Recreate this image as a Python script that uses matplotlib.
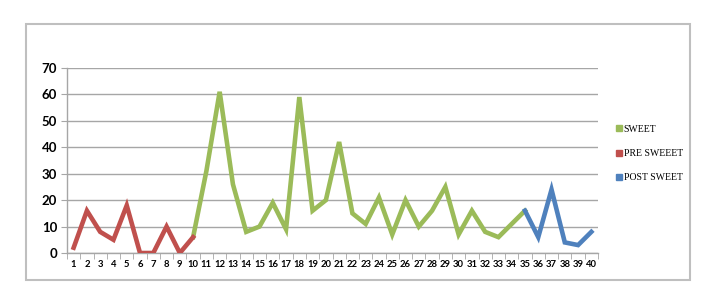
import matplotlib
matplotlib.use("Agg")
import matplotlib.pyplot as plt
from matplotlib.patches import Rectangle
from matplotlib.lines import Line2D

pre_x = list(range(1, 11))
pre_y = [2, 16, 8, 5, 18, 0, 0, 10, 0, 6]
sweet_x = list(range(10, 36))
sweet_y = [6, 31, 61, 26, 8, 10, 19, 9, 59, 16, 20, 42, 15, 11, 21, 7, 20, 10, 16, 25, 7, 16, 8, 6, 11, 16]
post_x = list(range(35, 41))
post_y = [16, 6, 24, 4, 3, 8]
categories = list(range(1, 41))
labels = ["SWEET", "PRE SWEEET", "POST SWEET"]
colors = ["#9BBB59", "#C0504D", "#4F81BD"]

fig = plt.figure(figsize=(7.08, 2.98), dpi=100)
fig.patches.append(Rectangle((26/708, 1-280/298), 664/708, 256/298, transform=fig.transFigure,
                             fill=False, edgecolor="#BFBFBF", lw=1.5))
ax = fig.add_axes([67/708, 1-253/298, (598-67)/708, (253-68)/298])

ax.plot(sweet_x, sweet_y, color=colors[0], lw=3.3, solid_joinstyle="miter", zorder=3)
ax.plot(pre_x, pre_y, color=colors[1], lw=3.3, solid_joinstyle="miter", zorder=3)
ax.plot(post_x, post_y, color=colors[2], lw=3.3, solid_joinstyle="miter", zorder=3)

ax.set_xlim(0.5, 40.5)
ax.set_ylim(0, 70)
ax.set_yticks(range(0, 71, 10))
ax.yaxis.grid(True, color="#A6A6A6", lw=1)
ax.set_axisbelow(True)
ax.set_xticks(categories)
ax.set_xticklabels([str(c) for c in categories], fontsize=6.8, fontweight="bold", family="Lato")
ax.set_xticks([c + 0.5 for c in [0] + categories], minor=True)
ax.tick_params(axis="x", which="major", length=0, pad=5)
ax.tick_params(axis="x", which="minor", length=4, color="#A6A6A6", direction="out")
ax.tick_params(axis="y", length=4, color="#A6A6A6", pad=3)
for lab in ax.get_yticklabels():
    lab.set_fontsize(9.5)
    lab.set_fontweight("bold")
    lab.set_family("Lato")
for s in ["top", "right"]:
    ax.spines[s].set_visible(False)
for s in ["left", "bottom"]:
    ax.spines[s].set_color("#A6A6A6")
    ax.spines[s].set_linewidth(1)

handles = [Line2D([], [], marker="s", ls="none", color=c, markersize=4) for c in colors]
fig.legend(handles, labels, loc="upper left", bbox_to_anchor=(610/708, 1-120/298),
           frameon=False, prop={"family": "Liberation Serif", "size": 7},
           handletextpad=0.1, labelspacing=1.55, handlelength=0.8, borderpad=0)

fig.savefig("out.png", dpi=100)
